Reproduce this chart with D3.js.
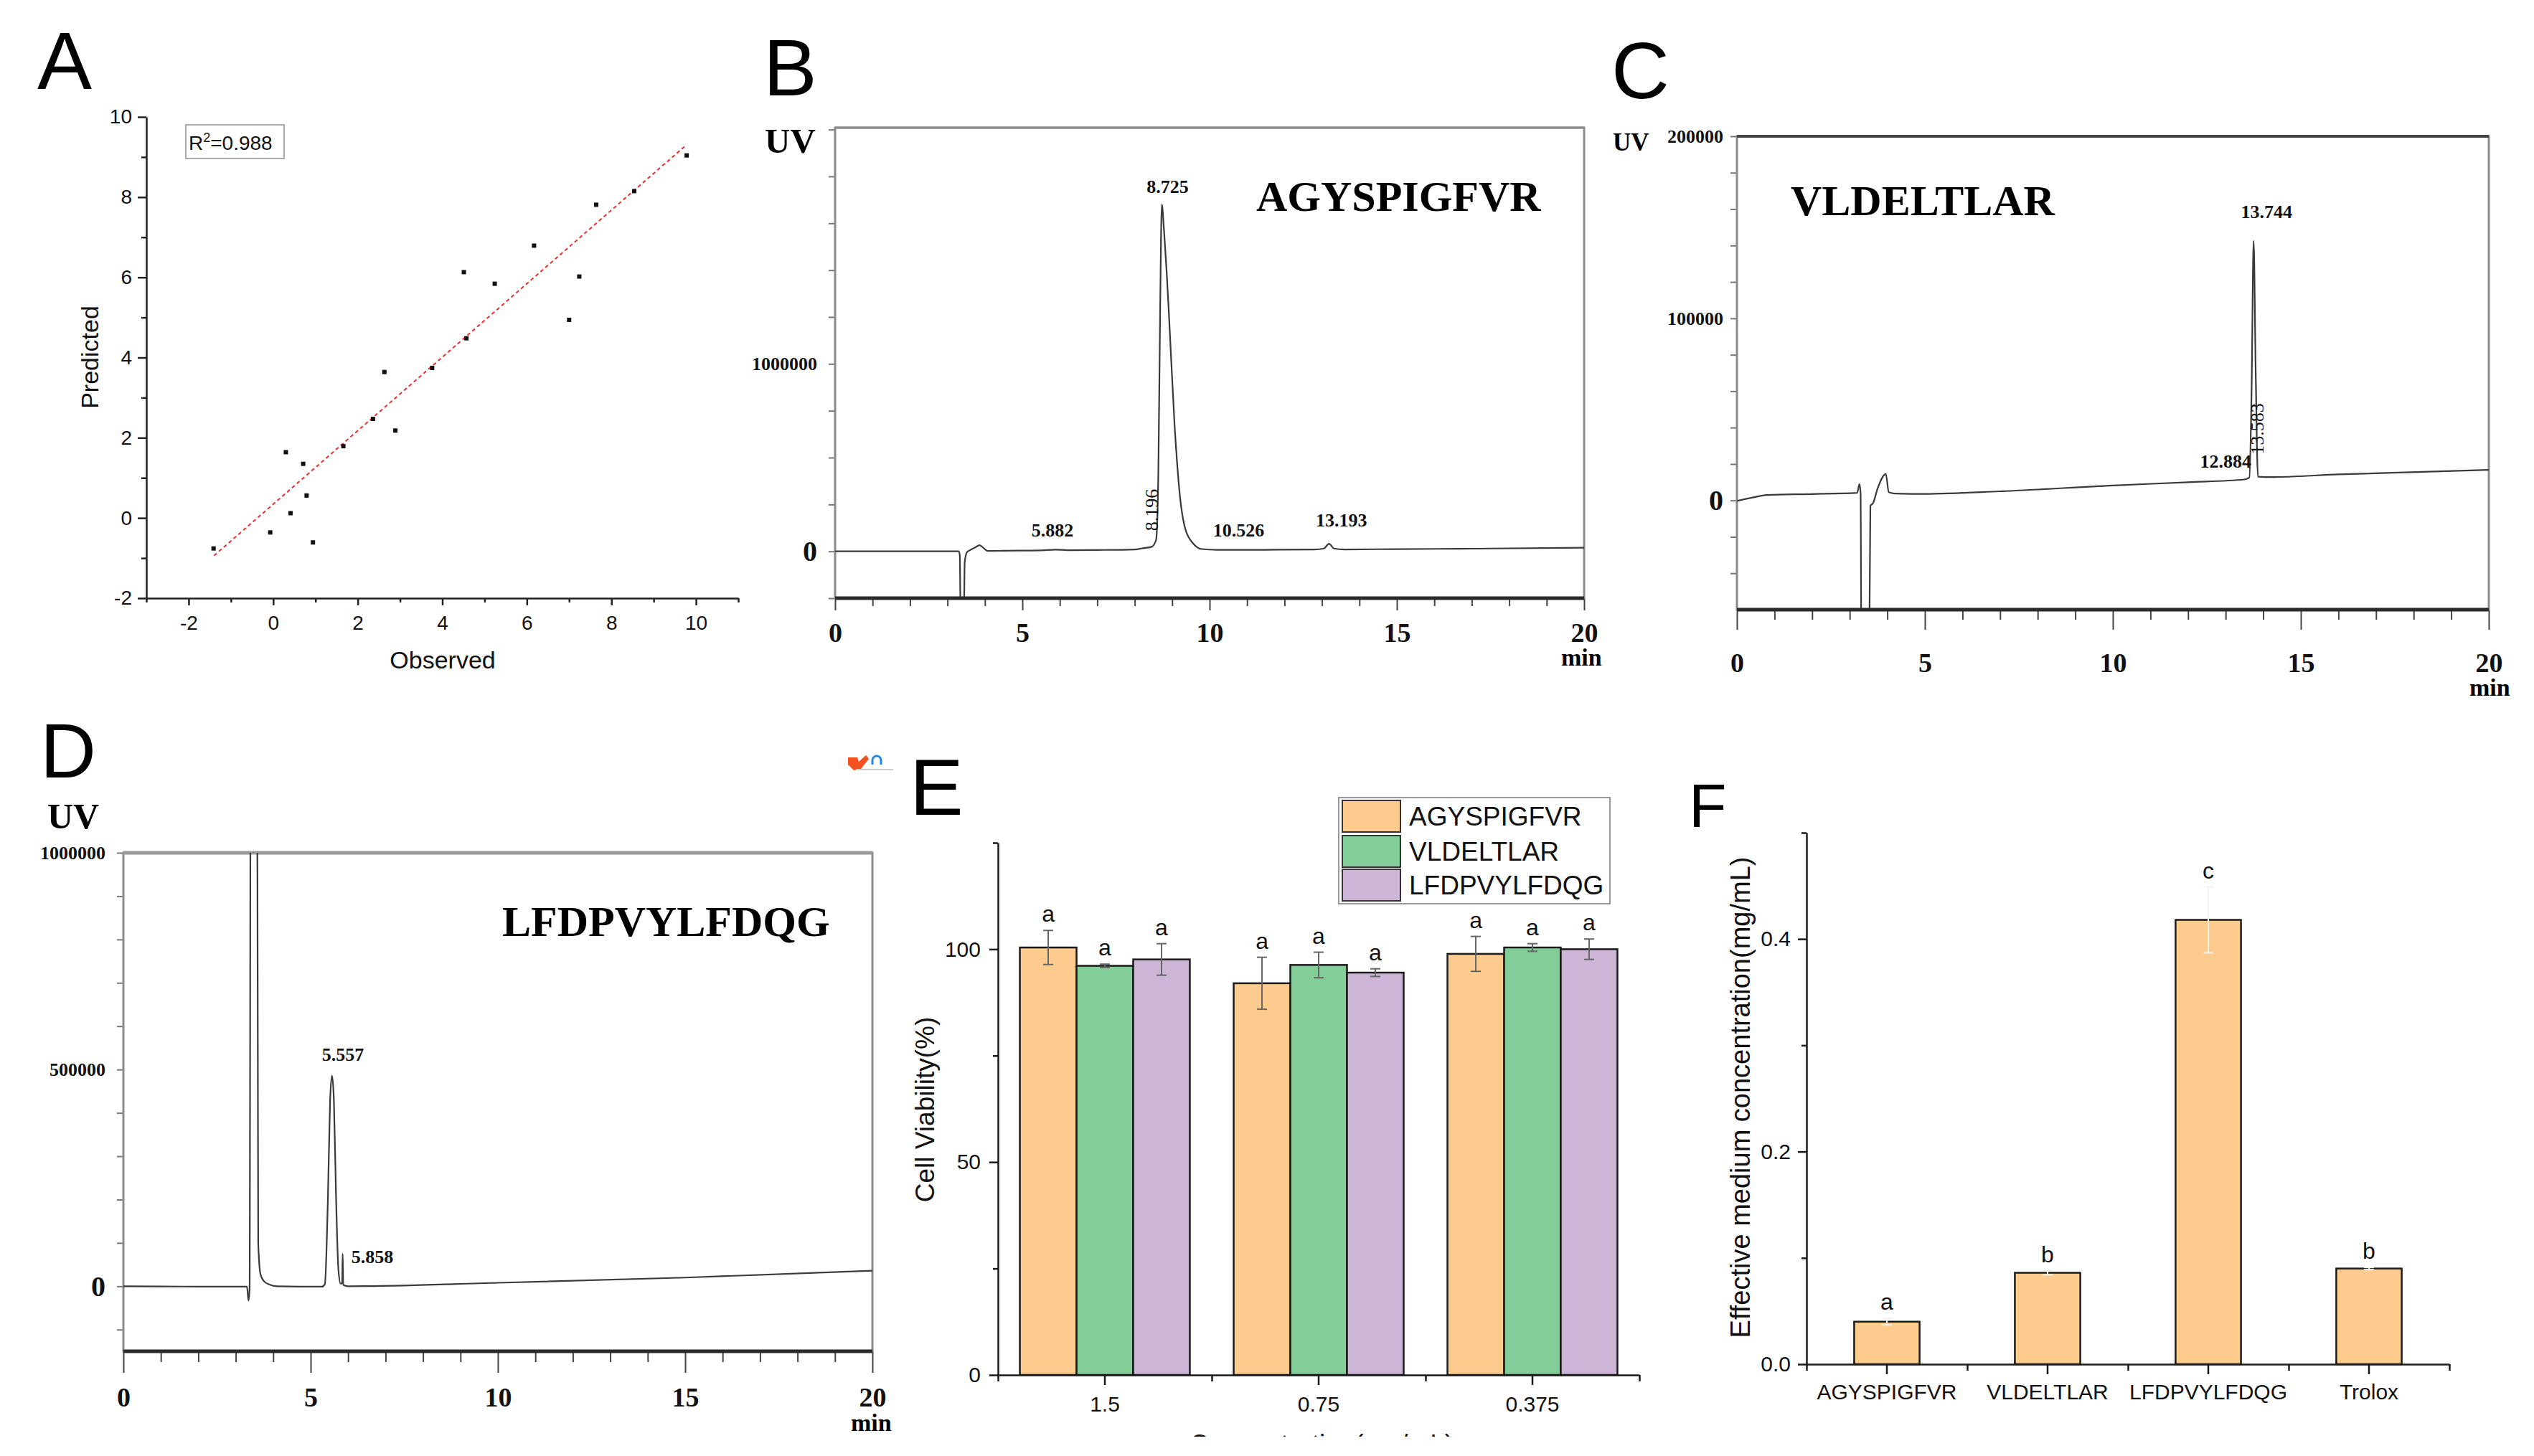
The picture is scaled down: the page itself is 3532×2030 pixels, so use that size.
<!DOCTYPE html>
<html>
<head>
<meta charset="utf-8">
<script src="https://cdn.jsdelivr.net/npm/d3@7"></script>
<style>
  body { margin: 0; background: #fff; }
  svg { display: block; }
</style>
</head>
<body>
<svg id="fig" width="3532" height="2030"></svg>
<script>
// ---------- data ----------

// A: observed vs predicted
var observed  = [-1.41, -0.07, 0.30, 0.41, 0.71, 0.79, 0.94, 1.66, 2.36, 2.63, 2.89, 3.76, 4.51, 4.57, 5.24, 6.17, 7.00, 7.24, 7.64, 8.54, 9.78];
var predicted = [-0.76, -0.36, 1.64, 0.12, 1.35, 0.56, -0.61, 1.79, 2.47, 3.64, 2.18, 3.74, 6.13, 4.48, 5.84, 6.79, 4.94, 6.02, 7.81, 8.15, 9.04];
var fitX = [-1.40, 9.75];
var fitY = [-0.94, 9.28];
var r2Text = "0.988";

// B, C, D: chromatograms, [time (min), UV]
var traceB = [[0,0],[1,0],[2,0],[3,0],[3.3,0],[3.33,-20000],[3.35,-330000],[3.44,-330000],[3.46,-60000],[3.52,-5000],
  [3.6,6000],[3.75,22000],[3.86,33000],[3.96,18000],[4.08,2000],[4.5,3000],[5.5,5000],[5.88,9000],[6.2,6000],[7,7000],
  [8,10000],[8.2,16000],[8.45,24000],[8.57,60000],[8.63,400000],[8.68,1300000],[8.725,1850000],[8.78,1720000],[8.85,1500000],
  [8.91,1280000],[9.06,690000],[9.21,290000],[9.35,120000],[9.57,40000],[9.79,12000],[10.2,8000],[10.53,8000],[11.5,8000],
  [12.8,10000],[13.05,15000],[13.19,40000],[13.32,15000],[13.6,10000],[15,12000],[17,14000],[20,19000]];
var peaksB = ["8.725", "5.882", "10.526", "13.193", "8.196"];

var traceC = [[0,-300],[0.4,1500],[0.8,3000],[2,3500],[3.2,4200],[3.26,9000],[3.29,4000],[3.31,-80000],[3.52,-80000],
  [3.55,-3000],[3.62,-1500],[3.75,7000],[3.96,14500],[4.04,4500],[4.2,3800],[5,3600],[7,5000],[10,8200],[12,10000],
  [13.5,11500],[13.63,12500],[13.69,60000],[13.744,142500],[13.8,70000],[13.86,13000],[14.2,12800],[16,14300],[20,16800]];
var peaksC = ["13.744", "12.884", "13.583"];

var traceD = [[0,0],[1,-500],[2,-800],[3.3,-1000],[3.34,-33000],[3.37,-5000],[3.4,1300000],[3.57,1300000],[3.6,100000],
  [3.66,28000],[3.75,12000],[3.9,4000],[4.1,0],[5.3,-1000],[5.38,5000],[5.46,200000],[5.52,430000],[5.57,486000],
  [5.62,430000],[5.68,200000],[5.74,40000],[5.8,6000],[5.84,6000],[5.855,75000],[5.87,3000],[6,0],[10,8000],[15,20000],[20,36000]];
var peaksD = ["5.557", "5.858"];

// E: cell viability (%)
var doses = ["1.5", "0.75", "0.375"];
var peptides = ["AGYSPIGFVR", "VLDELTLAR", "LFDPVYLFDQG"];
var viabilityAGY = [100.4, 92.0, 98.9];
var viabilityVLD = [96.1, 96.3, 100.4];
var viabilityLFD = [97.6, 94.5, 100.0];
var errorAGY = [4.0, 6.1, 4.1];
var errorVLD = [0.4, 3.0, 0.9];
var errorLFD = [3.7, 0.9, 2.4];
var lettersE = [["a","a","a"], ["a","a","a"], ["a","a","a"]];

// F: effective medium concentration (mg/mL)
var samples = ["AGYSPIGFVR", "VLDELTLAR", "LFDPVYLFDQG", "Trolox"];
var ec50 = [0.040, 0.086, 0.418, 0.090];
var ec50Err = [0.003, 0.002, 0.031, 0.001];
var lettersF = ["a", "b", "c", "b"];

// ---------- drawing ----------
var SANS = "'Liberation Sans', Arial, sans-serif";
var SERIF = "'Liberation Serif', 'Times New Roman', serif";
var barColors = ["#FECB8E", "#82CD98", "#CDB5D8"];

var svg = d3.select("#fig");
svg.append("rect").attr("width", 3532).attr("height", 2030).attr("fill", "#fff");

// axis with labelled major ticks and an optional set of shorter minor ticks
function drawAxis(axisFn, scale, o) {
  var g = svg.append("g").attr("transform", o.t)
    .call(axisFn(scale).tickValues(o.major).tickSize(o.len).tickSizeOuter(0)
      .tickPadding(o.pad).tickFormat(o.fmt || null));
  g.select(".domain").attr("stroke", o.color).attr("stroke-width", o.w);
  if (o.noDomain) g.select(".domain").remove();
  g.selectAll(".tick line").attr("stroke", o.color).attr("stroke-width", o.w);
  g.selectAll(".tick text").attr("font-family", o.font).attr("font-size", o.size)
    .attr("font-weight", o.weight || "normal").attr("fill", "#111");
  if (o.minor) {
    var m = svg.append("g").attr("transform", o.t)
      .call(axisFn(o.minorScale || scale).tickValues(o.minor).tickSize(o.minorLen).tickSizeOuter(0).tickFormat(""));
    m.select(".domain").remove();
    m.selectAll(".tick line").attr("stroke", o.color).attr("stroke-width", o.w);
  }
  return g;
}

function panelLetter(txt, x, y, size) {
  svg.append("text").attr("x", x).attr("y", y).attr("font-family", SANS)
    .attr("font-size", size).attr("fill", "#000").text(txt);
}

// plain hyphen minus, as in the original
function plain(d) { return String(d); }

// ===== A =====
panelLetter("A", 52, 124, 114);
var ax = d3.scaleLinear().domain([-3, 11]).range([204, 1029]);
var ay = d3.scaleLinear().domain([-2, 10]).range([834, 163]);

drawAxis(d3.axisBottom, ax, { t: "translate(0,834)", major: d3.range(-2, 11, 2), len: 10, pad: 14, fmt: plain,
  minor: [-3, -1, 1, 3, 5, 7, 9, 11], minorLen: 6, color: "#222", w: 2.5, font: SANS, size: 28 });
drawAxis(d3.axisLeft, ay, { t: "translate(204,0)", major: d3.range(-2, 11, 2), len: 12, pad: 8, fmt: plain,
  minor: [-1, 1, 3, 5, 7, 9], minorLen: 7, color: "#222", w: 2.5, font: SANS, size: 28 });

svg.append("path")
  .attr("d", d3.line()(fitX.map(function(v, i) { return [ax(v), ay(fitY[i])]; })))
  .attr("stroke", "#e8312f").attr("stroke-width", 2).attr("stroke-dasharray", "5,4").attr("fill", "none");

svg.append("g").selectAll("rect").data(observed).join("rect")
  .attr("x", function(d) { return ax(d) - 3; })
  .attr("y", function(d, i) { return ay(predicted[i]) - 3; })
  .attr("width", 6).attr("height", 6).attr("fill", "#111");

svg.append("rect").attr("x", 259).attr("y", 174).attr("width", 137).attr("height", 47)
  .attr("fill", "#fff").attr("stroke", "#aaa").attr("stroke-width", 2);
var r2 = svg.append("text").attr("x", 263).attr("y", 209).attr("font-family", SANS).attr("font-size", 28).attr("fill", "#111");
r2.append("tspan").text("R");
r2.append("tspan").attr("font-size", 18).attr("dy", -11).text("2");
r2.append("tspan").attr("dy", 11).text("=" + r2Text);

svg.append("text").attr("transform", "translate(125,498) rotate(-90)").attr("text-anchor", "middle")
  .attr("dominant-baseline", "central").attr("font-family", SANS).attr("font-size", 34).attr("fill", "#111").text("Predicted");
svg.append("text").attr("x", 617).attr("y", 920).attr("text-anchor", "middle")
  .attr("dominant-baseline", "central").attr("font-family", SANS).attr("font-size", 34).attr("fill", "#111").text("Observed");

// ===== chromatograms =====
function chromPanel(c) {
  var x = d3.scaleLinear().domain([0, 20]).range([c.left, c.right]);
  var y = d3.scaleLinear().domain(c.yDomain).range([c.bottom, c.top]);

  svg.append("clipPath").attr("id", "clip" + c.name).append("rect")
    .attr("x", c.left).attr("y", c.top).attr("width", c.right - c.left).attr("height", c.bottom - c.top);

  // y ticks (only some labelled)
  var ya = drawAxis(d3.axisLeft, y, { t: "translate(" + c.left + ",0)", major: c.yTicks, len: 9, pad: c.yPad,
    fmt: function(d) { return c.yLabels.indexOf(d) >= 0 ? String(d) : ""; },
    color: "#777", w: 2, font: SERIF, size: 26, weight: "bold", noDomain: true });
  ya.selectAll(".tick text").attr("font-size", function(d) { return d === 0 ? 40 : 26; });

  // x ticks, every minute, longer every 5
  drawAxis(d3.axisBottom, x, { t: "translate(0," + c.bottom + ")", major: [0, 5, 10, 15, 20], len: c.majorLen, pad: c.xPad,
    minor: d3.range(1, 20).filter(function(d) { return d % 5 !== 0; }), minorLen: c.minorLen,
    color: "#444", w: 2, font: SERIF, size: 38, weight: "bold", noDomain: true });

  // frame
  svg.append("rect").attr("x", c.left).attr("y", c.top).attr("width", c.right - c.left).attr("height", c.bottom - c.top)
    .attr("fill", "none").attr("stroke", "#8c8c8c").attr("stroke-width", 3);
  svg.append("line").attr("x1", c.left).attr("x2", c.right).attr("y1", c.top).attr("y2", c.top)
    .attr("stroke", c.topColor).attr("stroke-width", c.topW);

  svg.append("path").datum(c.trace).attr("clip-path", "url(#clip" + c.name + ")")
    .attr("d", d3.line().x(function(d) { return x(d[0]); }).y(function(d) { return y(d[1]); }).curve(d3.curveMonotoneX))
    .attr("fill", "none").attr("stroke", "#3a3a3a").attr("stroke-width", 2.2);

  svg.append("line").attr("x1", c.left).attr("x2", c.right).attr("y1", c.bottom).attr("y2", c.bottom)
    .attr("stroke", "#2a2a2a").attr("stroke-width", 5);

  // peak labels: [dx from retention time, y, rotated?, anchor]
  c.peaks.forEach(function(p, i) {
    var lay = c.peakLayout[i];
    var px = x(+p) + lay[0];
    var t = svg.append("text").attr("font-family", SERIF).attr("font-size", 26).attr("fill", "#111")
      .attr("dominant-baseline", "central").text(p);
    if (lay[2]) {
      t.attr("transform", "translate(" + px + "," + lay[1] + ") rotate(-90)").attr("text-anchor", "middle");
    } else {
      t.attr("x", px).attr("y", lay[1]).attr("text-anchor", lay[3] || "middle").attr("font-weight", "bold");
    }
  });

  svg.append("text").attr("x", c.titleX).attr("y", c.titleY).attr("font-family", SERIF).attr("font-weight", "bold")
    .attr("font-size", 60).attr("fill", "#000").text(c.title);
  svg.append("text").attr("x", c.uvX).attr("y", c.uvY).attr("font-family", SERIF).attr("font-weight", "bold")
    .attr("font-size", c.uvSize).attr("fill", "#000").text("UV");
  svg.append("text").attr("x", c.minX).attr("y", c.minY).attr("font-family", SERIF).attr("font-weight", "bold")
    .attr("font-size", 34).attr("fill", "#000").attr("dominant-baseline", "central").text("min");
}

// ===== B =====
panelLetter("B", 1064, 133, 112);
chromPanel({ name: "B", left: 1164, right: 2208, top: 178, bottom: 834,
  yDomain: [-250000, 2260000], yTicks: d3.range(-250000, 2250001, 250000), yLabels: [0, 1000000], yPad: 16,
  majorLen: 17, minorLen: 11, xPad: 17, topColor: "#8c8c8c", topW: 3,
  trace: traceB, peaks: peaksB,
  peakLayout: [[8, 260], [-4, 739], [13, 739], [17, 725], [14, 711, true]],
  title: "AGYSPIGFVR", titleX: 1751, titleY: 294,
  uvX: 1066, uvY: 213, uvSize: 49, minX: 2176, minY: 916 });

// ===== C =====
panelLetter("C", 2246, 137, 112);
chromPanel({ name: "C", left: 2421, right: 3469, top: 190, bottom: 850,
  yDomain: [-60000, 200000], yTicks: d3.range(-40000, 200001, 20000), yLabels: [0, 100000, 200000], yPad: 10,
  majorLen: 28, minorLen: 14, xPad: 32, topColor: "#444", topW: 4,
  trace: traceC, peaks: peaksC,
  peakLayout: [[18, 295], [42, 643, false, "end"], [14, 598, true]],
  title: "VLDELTLAR", titleX: 2496, titleY: 300,
  uvX: 2248, uvY: 210, uvSize: 35, minX: 3442, minY: 958 });

// ===== D =====
panelLetter("D", 56, 1084, 108);
chromPanel({ name: "D", left: 172, right: 1216, top: 1189, bottom: 1884,
  yDomain: [-150000, 1000000], yTicks: d3.range(-100000, 1000001, 100000), yLabels: [0, 500000, 1000000], yPad: 16,
  majorLen: 30, minorLen: 15, xPad: 20, topColor: "#9a9a9a", topW: 5,
  trace: traceD, peaks: peaksD,
  peakLayout: [[16, 1470], [12, 1752, false, "start"]],
  title: "LFDPVYLFDQG", titleX: 700, titleY: 1305,
  uvX: 66, uvY: 1155, uvSize: 50, minX: 1186, minY: 1983 });

// small stray icon between D and E
svg.append("path").attr("d", "M1182,1056 L1195,1056 L1197,1062 L1207,1053 L1211,1058 L1200,1072 L1190,1074 L1182,1066 Z")
  .attr("fill", "#f4511e");
svg.append("path").attr("d", "M1216,1066 v-6 a6,6 0 0 1 12,0 v6").attr("fill", "none").attr("stroke", "#1e88e5").attr("stroke-width", 3);
svg.append("line").attr("x1", 1193).attr("x2", 1245).attr("y1", 1073).attr("y2", 1073).attr("stroke", "#ccc").attr("stroke-width", 2);

// ===== E =====
panelLetter("E", 1268, 1136, 112);
var ex = d3.scaleBand().domain(doses).range([1391, 2285]);
var ey = d3.scaleLinear().domain([0, 125]).range([1917, 1175]);
var groupW = ex.bandwidth() * 0.795;
var exIn = d3.scaleBand().domain(peptides).range([0, groupW]);
var seriesE = [viabilityAGY, viabilityVLD, viabilityLFD];
var errorsE = [errorAGY, errorVLD, errorLFD];

var rowsE = [];
peptides.forEach(function(p, si) {
  doses.forEach(function(d, di) {
    rowsE.push({ pep: p, si: si, dose: d, v: seriesE[si][di], e: errorsE[si][di], letter: lettersE[si][di] });
  });
});
function barX(r) { return ex(r.dose) + (ex.bandwidth() - groupW) / 2 + exIn(r.pep); }

svg.append("g").selectAll("rect").data(rowsE).join("rect")
  .attr("x", barX).attr("y", function(r) { return ey(r.v); })
  .attr("width", exIn.bandwidth()).attr("height", function(r) { return ey(0) - ey(r.v); })
  .attr("fill", function(r) { return barColors[r.si]; }).attr("stroke", "#1a1a1a").attr("stroke-width", 2.5);

var errE = svg.append("g").attr("stroke", "#666").attr("stroke-width", 2);
rowsE.forEach(function(r) {
  var cx = barX(r) + exIn.bandwidth() / 2;
  errE.append("line").attr("x1", cx).attr("x2", cx).attr("y1", ey(r.v - r.e)).attr("y2", ey(r.v + r.e));
  [r.v - r.e, r.v + r.e].forEach(function(v) {
    errE.append("line").attr("x1", cx - 7).attr("x2", cx + 7).attr("y1", ey(v)).attr("y2", ey(v));
  });
  svg.append("text").attr("x", cx).attr("y", ey(r.v + r.e) - 12).attr("text-anchor", "middle")
    .attr("font-family", SANS).attr("font-size", 32).attr("fill", "#111").text(r.letter);
});

var exIdx = d3.scaleLinear().domain([0, doses.length]).range(ex.range());
drawAxis(d3.axisBottom, ex, { t: "translate(0,1917)", major: doses, len: 14, pad: 16,
  minor: d3.range(0, doses.length + 1), minorScale: exIdx, minorLen: 9,
  color: "#1a1a1a", w: 2.5, font: SANS, size: 30 });
drawAxis(d3.axisLeft, ey, { t: "translate(1391,0)", major: [0, 50, 100], len: 12, pad: 12,
  minor: [25, 75, 125], minorLen: 7, color: "#1a1a1a", w: 2.5, font: SANS, size: 30 });

svg.append("text").attr("transform", "translate(1289,1547) rotate(-90)").attr("text-anchor", "middle")
  .attr("dominant-baseline", "central").attr("font-family", SANS).attr("font-size", 37).attr("fill", "#111")
  .text("Cell Viability(%)");

// legend
svg.append("rect").attr("x", 1866).attr("y", 1112).attr("width", 378).attr("height", 148)
  .attr("fill", "#fff").attr("stroke", "#999").attr("stroke-width", 2);
var legRows = [1138, 1187, 1234];
peptides.forEach(function(p, i) {
  svg.append("rect").attr("x", 1871).attr("y", legRows[i] - 22).attr("width", 81).attr("height", 44)
    .attr("fill", barColors[i]).attr("stroke", "#333").attr("stroke-width", 2);
  svg.append("text").attr("x", 1964).attr("y", legRows[i] + 13).attr("font-family", SANS).attr("font-size", 37)
    .attr("fill", "#111").text(p);
});

// x title cut off by the figure's bottom edge
svg.append("text").attr("x", 1842).attr("y", 2026).attr("text-anchor", "middle").attr("font-family", SANS)
  .attr("font-size", 37).attr("fill", "#111").text("Concentration(mg/mL)");
svg.append("rect").attr("x", 1500).attr("y", 2003).attr("width", 700).attr("height", 27).attr("fill", "#fff");

// ===== F =====
panelLetter("F", 2354, 1153, 86);
var fx = d3.scaleBand().domain(samples).range([2518, 3414]);
var fy = d3.scaleLinear().domain([0, 0.5]).range([1902, 1161]);
var fBarW = fx.bandwidth() * 0.407;

svg.append("g").selectAll("rect").data(ec50).join("rect")
  .attr("x", function(d, i) { return fx(samples[i]) + (fx.bandwidth() - fBarW) / 2; })
  .attr("y", function(d) { return fy(d); })
  .attr("width", fBarW).attr("height", function(d) { return fy(0) - fy(d); })
  .attr("fill", barColors[0]).attr("stroke", "#1a1a1a").attr("stroke-width", 2.5);

// error bars are drawn near-white in the original, barely visible
var errF = svg.append("g").attr("stroke", "#f6f1ea").attr("stroke-width", 2);
ec50.forEach(function(v, i) {
  var cx = fx(samples[i]) + fx.bandwidth() / 2;
  var e = ec50Err[i];
  errF.append("line").attr("x1", cx).attr("x2", cx).attr("y1", fy(v - e)).attr("y2", fy(v + e));
  [v - e, v + e].forEach(function(w) {
    errF.append("line").attr("x1", cx - 7).attr("x2", cx + 7).attr("y1", fy(w)).attr("y2", fy(w));
  });
  svg.append("text").attr("x", cx).attr("y", fy(v + e) - 12).attr("text-anchor", "middle")
    .attr("font-family", SANS).attr("font-size", 32).attr("fill", "#111").text(lettersF[i]);
});

var fxIdx = d3.scaleLinear().domain([0, samples.length]).range(fx.range());
drawAxis(d3.axisBottom, fx, { t: "translate(0,1902)", major: samples, len: 14, pad: 14,
  minor: d3.range(0, samples.length + 1), minorScale: fxIdx, minorLen: 9,
  color: "#1a1a1a", w: 2.5, font: SANS, size: 30 });
drawAxis(d3.axisLeft, fy, { t: "translate(2518,0)", major: [0, 0.2, 0.4], len: 12, pad: 10,
  fmt: d3.format(".1f"), minor: [0.1, 0.3, 0.5], minorLen: 7, color: "#1a1a1a", w: 2.5, font: SANS, size: 30 });

svg.append("text").attr("transform", "translate(2426,1530) rotate(-90)").attr("text-anchor", "middle")
  .attr("dominant-baseline", "central").attr("font-family", SANS).attr("font-size", 38).attr("fill", "#111")
  .text("Effective medium concentration(mg/mL)");
</script>
</body>
</html>
